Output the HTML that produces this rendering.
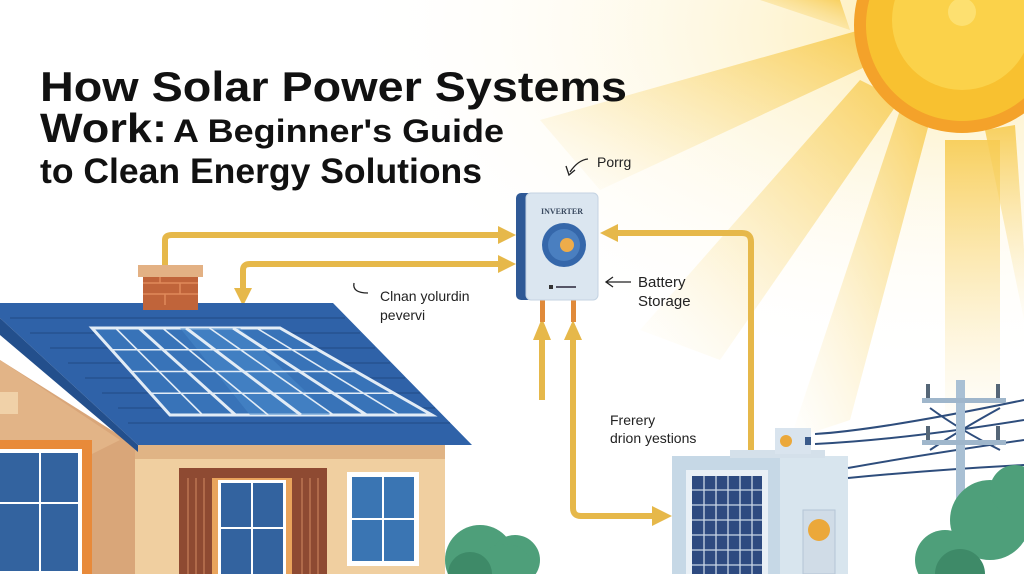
<!DOCTYPE html>
<html><head><meta charset="utf-8"><style>
html,body{margin:0;padding:0;background:#fff;width:1024px;height:574px;overflow:hidden}
svg{display:block;font-family:"Liberation Sans",sans-serif;overflow:hidden}
</style></head><body>
<svg width="1024" height="574" viewBox="0 0 1024 574" xmlns="http://www.w3.org/2000/svg">
<defs>
<linearGradient id="ray" x1="1" y1="0" x2="0" y2="1">
<stop offset="0" stop-color="#f7c94a" stop-opacity="0.9"/>
<stop offset="1" stop-color="#fbe7a8" stop-opacity="0"/>
</linearGradient>
<linearGradient id="rayv" x1="0" y1="0" x2="0" y2="1">
<stop offset="0" stop-color="#f7c94a" stop-opacity="0.85"/>
<stop offset="1" stop-color="#fbe7a8" stop-opacity="0.05"/>
</linearGradient>
<radialGradient id="glow" cx="0.93" cy="0.05" r="0.6">
<stop offset="0" stop-color="#fde9a6" stop-opacity="0.9"/>
<stop offset="1" stop-color="#fff" stop-opacity="0"/>
</radialGradient>
</defs>
<rect width="1024" height="574" fill="#fff"/>
<rect width="1024" height="574" fill="url(#glow)"/>
<g>
<polygon points="880,60 860,30 540,120 600,190" fill="url(#ray)"/>
<polygon points="900,100 860,80 640,330 720,360" fill="url(#ray)" opacity="0.9"/>
<polygon points="930,120 900,110 790,440 850,420" fill="url(#ray)" opacity="0.9"/>
<polygon points="945,140 1000,140 1000,420 945,420" fill="url(#rayv)"/>
<polygon points="985,130 1015,125 1024,250 1024,320" fill="url(#rayv)"/>
<polygon points="850,30 840,0 760,0" fill="url(#ray)"/>
</g>
<circle cx="962" cy="25" r="108" fill="#f4a22a"/>
<circle cx="962" cy="25" r="96" fill="#f8c130"/>
<circle cx="962" cy="20" r="70" fill="#fbd24a"/>
<circle cx="962" cy="12" r="14" fill="#fde070"/>

<g fill="#111" font-weight="bold">
<text x="40" y="101" font-size="42" textLength="587" lengthAdjust="spacingAndGlyphs">How Solar Power Systems</text>
<text x="40" y="142" font-size="41" textLength="127" lengthAdjust="spacingAndGlyphs">Work:</text>
<text x="173" y="142" font-size="32" textLength="331" lengthAdjust="spacingAndGlyphs">A Beginner's Guide</text>
<text x="40" y="183" font-size="35" textLength="442" lengthAdjust="spacingAndGlyphs">to Clean Energy Solutions</text>
</g>

<g fill="#222" font-size="14">
<text x="597" y="167">Porrg</text>
<path d="M588 159 Q578 160 570 172 M566 166 L569 175 L575 170" stroke="#222" fill="none" stroke-width="1.3"/>
<text x="638" y="287" font-size="15">Battery</text>
<text x="638" y="306" font-size="15">Storage</text>
<path d="M631 282 L607 282 M613 277 L606 282 L613 287" stroke="#222" fill="none" stroke-width="1.3"/>
<text x="380" y="301">Clnan yolurdin</text>
<text x="380" y="320">pevervi</text>
<path d="M354 283 Q352 293 368 293" stroke="#222" fill="none" stroke-width="1.3"/>
<text x="610" y="425">Frerery</text>
<text x="610" y="443">drion yestions</text>
</g>

<g stroke="#e6b84a" stroke-width="6" fill="none" stroke-linejoin="round">
<path d="M165 268 L165 240 Q165 235 172 235 L500 235"/>
<path d="M243 292 L243 270 Q243 264 250 264 L500 264"/>
<path d="M612 233 L742 233 Q751 233 751 242 L751 458"/>
<path d="M542 400 L542 335"/>
<path d="M573 335 L573 508 Q573 516 581 516 L655 516"/>
</g>
<g fill="#e6b84a">
<polygon points="498,226 516,235 498,244"/>
<polygon points="498,255 516,264 498,273"/>
<polygon points="234,288 252,288 243,306"/>
<polygon points="618,224 600,233 618,242"/>
<polygon points="742,455 760,455 751,476"/>
<polygon points="533,340 551,340 542,318"/>
<polygon points="564,340 582,340 573,320"/>
<polygon points="652,506 672,516 652,526"/>
</g>
<rect x="540" y="300" width="5" height="22" fill="#e08a3a"/>
<rect x="571" y="300" width="5" height="22" fill="#e08a3a"/>

<rect x="516" y="193" width="40" height="107" rx="5" fill="#2f5996"/>
<rect x="526" y="193" width="72" height="107" rx="5" fill="#dbe6f0" stroke="#c4d3e2"/>
<text x="562" y="214" font-size="8" text-anchor="middle" fill="#3a4a60" font-weight="bold" font-family="Liberation Serif,serif">INVERTER</text>
<circle cx="564" cy="245" r="22" fill="#3567aa"/>
<circle cx="564" cy="245" r="16" fill="#4a7fc0"/>
<circle cx="567" cy="245" r="7" fill="#eeac4a"/>
<rect x="549" y="285" width="4" height="4" fill="#333"/>
<rect x="556" y="286" width="20" height="2" fill="#556"/>

<rect x="672" y="456" width="176" height="118" fill="#c6d8e6"/>
<rect x="780" y="456" width="68" height="118" fill="#d8e5ee"/>
<rect x="730" y="450" width="95" height="8" fill="#d4e0ea"/>
<rect x="775" y="428" width="36" height="26" fill="#d9e4ee"/>
<circle cx="786" cy="441" r="6" fill="#eba83a"/>
<rect x="805" y="437" width="6" height="8" fill="#3a5a8a"/>
<rect x="686" y="470" width="82" height="104" fill="#e9f0f6"/>
<rect x="692" y="476" width="70" height="98" fill="#2d4a80"/>
<g stroke="#c9d6e6" stroke-width="1.3">
<path d="M704 476V574M716 476V574M728 476V574M740 476V574M752 476V574"/>
<path d="M692 490H762M692 505H762M692 520H762M692 535H762M692 550H762M692 565H762"/>
</g>
<rect x="803" y="510" width="32" height="64" fill="#d0dce7" stroke="#b5c5d5"/>
<circle cx="819" cy="530" r="11" fill="#eba83a"/>
<g stroke="#2e4d7c" stroke-width="2" fill="none">
<path d="M815 434 Q880 430 1024 400"/>
<path d="M815 444 Q900 440 1024 420"/>
<path d="M848 468 Q920 455 1024 440"/>
<path d="M848 478 Q930 470 1024 465"/>
<path d="M930 408 Q960 430 1000 450"/>
<path d="M1000 408 Q960 430 930 450"/>
</g>
<rect x="956" y="380" width="9" height="194" fill="#a9c0d4"/>
<rect x="922" y="398" width="84" height="5" fill="#9fb6cb"/>
<rect x="922" y="440" width="84" height="5" fill="#9fb6cb"/>
<rect x="926" y="384" width="4" height="14" fill="#567"/>
<rect x="996" y="384" width="4" height="14" fill="#567"/>
<rect x="926" y="426" width="4" height="14" fill="#567"/>
<rect x="996" y="426" width="4" height="14" fill="#567"/>

<g fill="#4e9f7a">
<circle cx="990" cy="520" r="40"/>
<circle cx="945" cy="560" r="30"/>
<circle cx="1015" cy="490" r="25"/>
<circle cx="480" cy="560" r="35"/>
<circle cx="515" cy="560" r="25"/>
<circle cx="505" cy="574" r="30"/>
<circle cx="8" cy="574" r="20"/>
</g>
<g fill="#3e8a68">
<circle cx="470" cy="574" r="22"/>
<circle cx="960" cy="574" r="25"/>
</g>

<polygon points="0,360 0,574 135,574 135,445" fill="#d9a679"/>
<polygon points="0,360 0,500 120,440" fill="#e2b487"/>
<rect x="135" y="445" width="310" height="129" fill="#f0cfa0"/>
<rect x="135" y="445" width="310" height="14" fill="#e0b485"/>
<rect x="0" y="392" width="18" height="22" fill="#f0d1a8"/>
<polygon points="0,303 333,303 472,445 138,445 0,318" fill="#2f62a8"/>
<polygon points="0,318 138,445 138,452 0,335" fill="#234f8c"/>
<g stroke="#26538f" stroke-width="1.5">
<path d="M10 318H345M30 333H360M50 348H375M68 363H390M85 378H405M102 393H420M118 408H435M128 423H450"/>
</g>
<rect x="143" y="272" width="55" height="38" fill="#c0643a"/>
<g stroke="#e08a5a" stroke-width="1.5"><path d="M143 283H198M143 294H198M160 272V283M180 283V294M165 294V305"/></g>
<rect x="138" y="265" width="65" height="12" fill="#e3b184"/>
<polygon points="92,328 280,328 432,415 170,415" fill="#3873b8" stroke="#e2ecf6" stroke-width="3"/>
<polygon points="180,328 240,328 330,415 250,415" fill="#4a8ccb" opacity="0.5"/>
<g stroke="#e2ecf6" stroke-width="1.6">
<path d="M111.5,349.75 L318,349.75 M131,371.5 L356,371.5 M150.5,393.25 L394,393.25"/>
<path d="M115.5,328 L202.7,415 M162.5,328 L268.2,415 M209.5,328 L333.7,415 M256.5,328 L399.2,415"/>
</g>
<g stroke="#e2ecf6" stroke-width="3">
<path d="M139,328 L235.5,415 M186,328 L301,415 M233,328 L366.5,415"/>
</g>
<rect x="0" y="440" width="92" height="134" fill="#e88a3a"/>
<rect x="0" y="449" width="82" height="125" fill="#fff"/>
<rect x="0" y="453" width="78" height="118" fill="#33639f"/>
<path d="M40 453V571M0 503H78" stroke="#fff" stroke-width="2"/>
<rect x="179" y="468" width="148" height="106" fill="#8e4a32"/>
<g stroke="#b06a4a" stroke-width="2"><path d="M188 478V574M196 478V574M204 478V574M302 478V574M310 478V574M318 478V574"/></g>
<rect x="212" y="478" width="80" height="96" fill="#e9a45c"/>
<rect x="218" y="480" width="68" height="94" fill="#fff"/>
<rect x="221" y="483" width="62" height="91" fill="#33639f"/>
<path d="M252 483V574M221 528H283" stroke="#fff" stroke-width="2"/>
<rect x="347" y="472" width="72" height="94" fill="#fff"/>
<rect x="352" y="477" width="62" height="84" fill="#3a75b3"/>
<path d="M383 477V561M352 519H414" stroke="#fff" stroke-width="2"/>
</svg>
</body></html>
